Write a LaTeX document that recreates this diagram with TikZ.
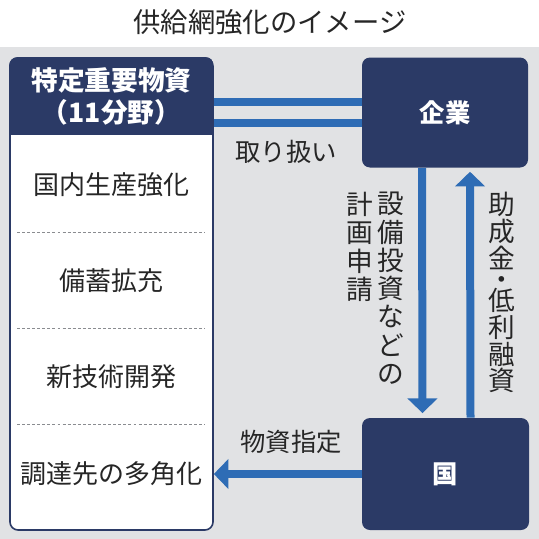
\documentclass[tikz,border=0pt]{standalone}
\usepackage{fontspec}
\setmainfont{Noto Sans CJK JP}
\usetikzlibrary{arrows.meta}
\definecolor{navy}{HTML}{2B3A66}
\definecolor{flowblue}{HTML}{2E6CB5}
\definecolor{panelgray}{HTML}{E1E2E4}
\definecolor{dashgray}{HTML}{8A8C90}
\begin{document}
\begin{tikzpicture}[x=0.75pt,y=-0.75pt,
    actor/.style={fill=navy, rounded corners=6pt, text=white, font=\fontsize{19}{22}\selectfont\bfseries},
    flow/.style={draw=flowblue, line width=6pt, -{Triangle[width=22pt,length=11pt]}},
    pipe/.style={draw=flowblue, line width=6pt},
    item/.style={font=\fontsize{19.5}{22}\selectfont, text=black!85},
    tag/.style={font=\fontsize{19}{22}\selectfont, text=black!85},
    vtag/.style={font=\fontsize{20}{21.2}\selectfont, text=black!85, align=center, inner sep=0pt, anchor=north}]
  \useasboundingbox (0,0) rectangle (539,539);
  \fill[panelgray] (0,47) rectangle (539,539);
  \node[font=\fontsize{20.5}{24}\selectfont, text=black!85] (title) at (270,22) {供給網強化のイメージ};

  % boxes
  \node[draw=navy, line width=1.2pt, fill=white, rounded corners=6pt, minimum width=152.25pt, minimum height=354pt] (goods) at (111.5,294) {};
  \begin{scope}
    \clip[rounded corners=6pt] (goods.north west) rectangle (goods.south east);
    \fill[navy] (goods.north west) rectangle (213,135);
  \end{scope}
  \node[text=white, align=center, font=\fontsize{20}{24}\selectfont\bfseries] (head) at (111.5,96) {特定重要物資\\（11分野）};
  \node[actor, minimum width=124.5pt, minimum height=82.5pt] (firm) at (445,112.5) {企業};
  \node[actor, minimum width=125.25pt, minimum height=84pt] (state) at (445.5,474) {国};

  % list
  \node[item] (i1) at (111.5,185) {国内生産強化};
  \node[item] (i2) at (111.5,281) {備蓄拡充};
  \node[item] (i3) at (111.5,377) {新技術開発};
  \node[item] (i4) at (111.5,474) {調達先の多角化};
  \foreach \y in {232,328,424}
    \draw[dashgray, line width=0.6pt, dash pattern=on 2.2pt off 1.6pt] (17,\y) -- (205,\y);

  % connectors
  \draw[pipe] ([yshift=8pt]firm.west -| goods.east) -- ([yshift=8pt]firm.west);
  \draw[pipe] ([yshift=-8pt]firm.west -| goods.east) -- ([yshift=-8pt]firm.west);
  \draw[flow, shorten >=3.5pt] ([xshift=-17.25pt]firm.south) -- ([xshift=-17.25pt]state.north);
  \draw[flow, shorten >=3pt] ([xshift=18.75pt]state.north) -- ([xshift=18.75pt]firm.south);
  \draw[flow] (state.west) -- (goods.east |- state.west);

  % labels
  \node[tag] (handle) at (286,152) {取り扱い};
  \node[tag] (assign) at (291,442) {物資指定};
  \node[vtag] (plan) at (391,192) {設\\備\\投\\資\\な\\ど\\の};
  \node[vtag] (plan2) at (360,192) {計\\画\\申\\請};
  \node[vtag, font=\fontsize{20}{20}\selectfont] (aid) at (502,192) {助\\成\\金\\[-4pt]・\\[-4pt]低\\利\\融\\資};
\end{tikzpicture}
\end{document}
